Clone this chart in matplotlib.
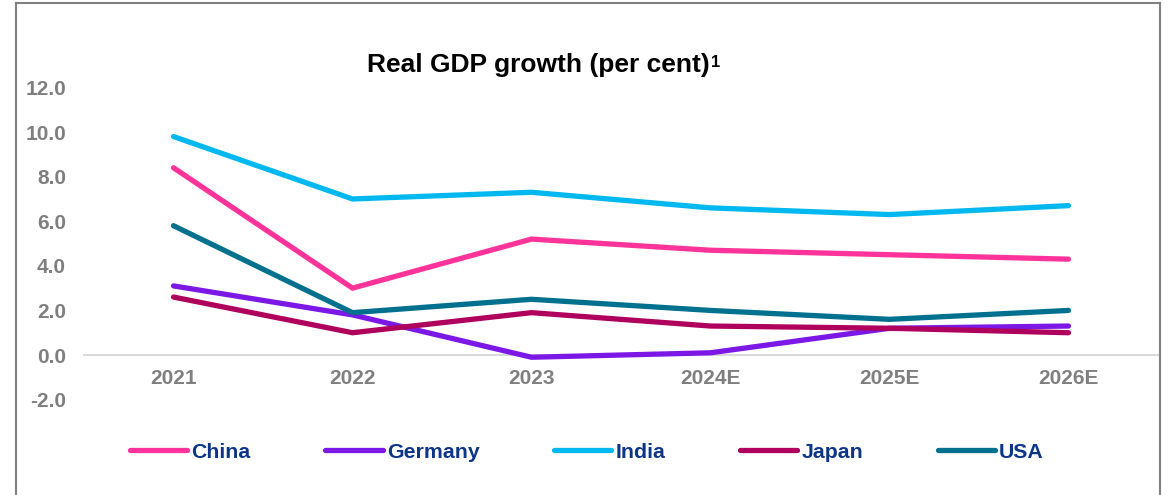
import matplotlib
matplotlib.use("Agg")
import matplotlib.pyplot as plt
from matplotlib.lines import Line2D

categories = ["2021", "2022", "2023", "2024E", "2025E", "2026E"]
china = [8.4, 3.0, 5.2, 4.7, 4.5, 4.3]
germany = [3.1, 1.8, -0.1, 0.1, 1.2, 1.3]
india = [9.8, 7.0, 7.3, 6.6, 6.3, 6.7]
japan = [2.6, 1.0, 1.9, 1.3, 1.2, 1.0]
usa = [5.8, 1.9, 2.5, 2.0, 1.6, 2.0]
series_names = ["China", "Germany", "India", "Japan", "USA"]
yticks = [-2.0, 0.0, 2.0, 4.0, 6.0, 8.0, 10.0, 12.0]

colors = ["#FF3399", "#7B18E6", "#00B8F0", "#B0005E", "#00708F"]

plt.rcParams['font.family'] = ['Liberation Sans', 'DejaVu Sans']

W, H = 1170, 495
fig = plt.figure(figsize=(W / 100, H / 100), dpi=100)
ax = fig.add_axes([84 / W, 1 - 399.6 / H, (1158 - 84) / W, (399.6 - 87.5) / H])

x = list(range(len(categories)))
for name, vals, c in zip(series_names, [china, germany, india, japan, usa], colors):
    ax.plot(x, vals, color=c, lw=3.8, solid_capstyle='round', solid_joinstyle='miter', label=name)

ax.set_xlim(-0.5, len(categories) - 0.5)
ax.set_ylim(-2, 12)
ax.set_yticks(yticks)
ax.set_yticklabels([f"{v:.1f}" for v in yticks])
ax.set_xticks(x)
ax.set_xticklabels(categories)

for s in ['top', 'right', 'left']:
    ax.spines[s].set_visible(False)
ax.spines['bottom'].set_position(('data', 0))
ax.spines['bottom'].set_color('#D9D9D9')
ax.spines['bottom'].set_linewidth(1.5)
ax.spines['bottom'].set_zorder(0)

ax.tick_params(axis='both', length=0, labelcolor='#7F7F7F', labelsize=15)
ax.tick_params(axis='y', pad=13)
ax.tick_params(axis='x', pad=10)
for lab in ax.get_xticklabels() + ax.get_yticklabels():
    lab.set_fontweight('bold')

title = fig.text(367 / W, 1 - 72 / H, "Real GDP growth (per cent)", ha='left', va='baseline',
                 fontsize=19, fontweight='bold', color='black')
fig.canvas.draw()
bb = title.get_window_extent(renderer=fig.canvas.get_renderer())
fig.text((bb.x1 + 1) / W, 1 - 67 / H, "1", ha='left', va='baseline',
         fontsize=12, fontweight='bold', color='black')

leg = fig.legend(loc='center', bbox_to_anchor=(587 / W, 1 - 452 / H), ncol=5, frameon=False,
                 handlelength=2.7, handletextpad=0.2, columnspacing=3.5,
                 prop={'weight': 'bold', 'size': 15.3})
for t in leg.get_texts():
    t.set_color('#0B3588')
for h in leg.get_lines():
    h.set_linewidth(3.8)

fc = '#808080'
fig.add_artist(Line2D([16 / W, 16 / W], [0, 1 - 3 / H], color=fc, lw=1.5, transform=fig.transFigure))
fig.add_artist(Line2D([1159.5 / W, 1159.5 / W], [0, 1 - 3 / H], color=fc, lw=1.5, transform=fig.transFigure))
fig.add_artist(Line2D([16 / W, 1159.5 / W], [1 - 3 / H, 1 - 3 / H], color=fc, lw=1.5, transform=fig.transFigure))

fig.savefig("out.png", dpi=100)
